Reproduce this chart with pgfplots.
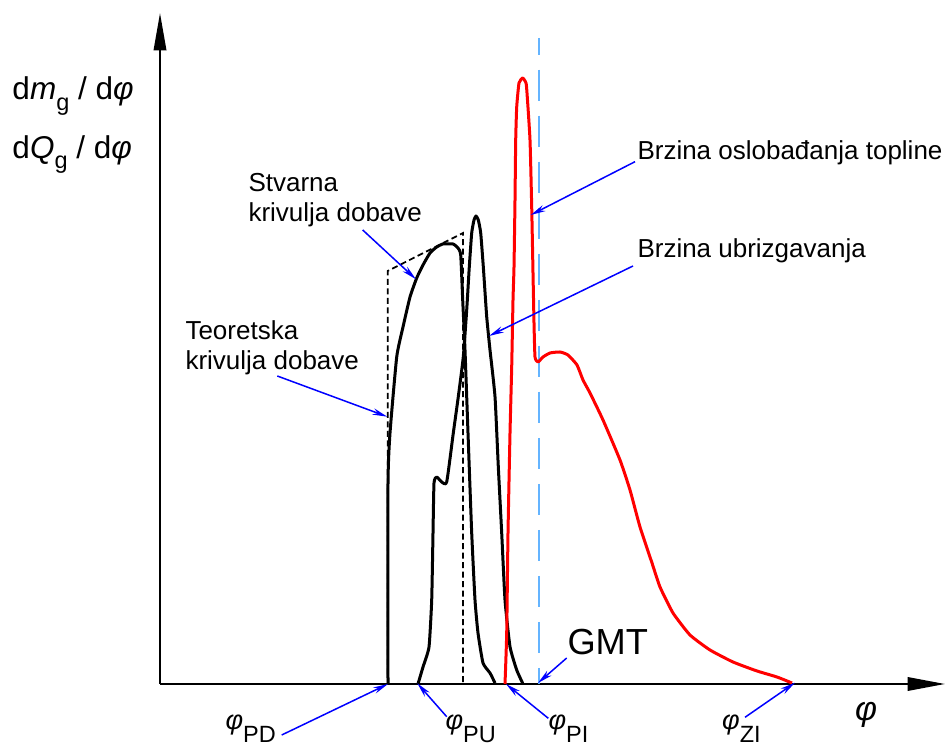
\documentclass[border=0pt]{standalone}
\usepackage{fontspec}
\setmainfont{Liberation Sans}
\usepackage{pgfplots}
\pgfplotsset{compat=1.18}
\usetikzlibrary{arrows.meta}
\definecolor{gmtblue}{RGB}{100,180,255}
\definecolor{pureblue}{RGB}{0,0,255}
\definecolor{heatred}{RGB}{255,0,0}
\newcommand{\phl}[1]{{\fontsize{10.8}{12}\selectfont\textit{φ}\raisebox{-5pt}{\fontsize{9.4}{10}\selectfont #1}}}
\newcommand{\subg}{\raisebox{-4.1pt}{\fontsize{9.4}{10}\selectfont g}}
\begin{document}
\begin{tikzpicture}
\begin{axis}[
  scale only axis, width=378.4pt, height=298.4pt,
  xmin=-160, xmax=786, ymin=-62, ymax=684,
  axis lines=none, clip=false,
  ann/.style={pureblue, line width=0.6pt, -{Stealth[length=6pt,width=2.6pt]}},
]
% axes
\addplot[black, line width=0.8pt, -{Triangle[length=15pt,width=5pt]}] coordinates {(0,0) (0,671)};
\addplot[black, line width=0.8pt, -{Triangle[length=15pt,width=5.4pt]}] coordinates {(0,0) (785,0)};
% GMT dashed line
\addplot[gmtblue, line width=0.75pt, dash pattern=on 12.4pt off 6pt, dash phase=5.7pt] coordinates {(379,646) (379,0)};
% theoretical delivery curve
\addplot[black, line width=0.7pt, dash pattern=on 2.4pt off 1.4pt] coordinates {(227.7,0) (227.7,413) (303,451) (303,0)};
% actual delivery curve
\addplot[black, line width=1.2pt, line join=round, smooth, tension=0.3] coordinates {
(228,0) (228,201) (230,251) (236.7,327) (243,357) (250,387) (256.7,406) (263,419)
(270,431) (276.7,437) (283,440) (293,440) (298,436) (300.7,429) (302.7,384) (305,334)
(308,251) (311.7,151) (315,84) (318,51) (323,21) (330,11) (335,1)};
% injection rate
\addplot[black, line width=1.2pt, line join=round, smooth, tension=0.3] coordinates {
(258,0) (263,17) (269,37) (271.7,84) (273,151) (274,201) (276.7,207) (281.7,202)
(286.7,202) (293.3,251) (298.3,287.3) (303.3,327.3) (306.7,374) (309.3,417.3)
(311.7,451) (314,464) (316,468) (318.3,464) (320.7,451) (323.3,417.3) (326.7,367.3)
(330,334) (335,287.3) (338.3,217.3) (341.7,151) (345,84) (350,37.3) (356.7,14) (362.7,0.7)};
% heat release rate
\addplot[heatred, line width=1.2pt, line join=round, smooth, tension=0.3] coordinates {
(345,0) (346.7,51) (348,151) (350,251) (351.7,317) (353,384) (354,417) (355,484)
(355.7,544) (356.7,577) (359,601) (362.7,606) (366,601) (367,591) (370,544) (371.7,477)
(373,411) (374,361) (375,327) (378,322) (383,327) (390,331) (400,332) (408,329)
(417,319) (423,304) (430,291) (443,264) (460,224) (470,194) (480,157) (492,121)
(500,97) (513,71) (530,49) (550,34) (573,22) (597,13) (617,7) (632,1)};
% annotation arrows
\addplot[ann] coordinates {(202.7,454) (256,404.7)};
\addplot[ann] coordinates {(117.3,308) (227.3,267.3)};
\addplot[ann] coordinates {(475,522.3) (370.7,469)};
\addplot[ann] coordinates {(473,418) (329,348)};
\addplot[ann] coordinates {(406.7,26) (378,1)};
\addplot[ann] coordinates {(121.7,-51) (228,0)};
\addplot[ann] coordinates {(286.7,-32.7) (257.3,0.7)};
\addplot[ann] coordinates {(388.3,-34.3) (346,0)};
\addplot[ann] coordinates {(585,-33.3) (635,1.3)};
% texts
\node[anchor=base west, font=\fontsize{12.6}{14}\selectfont, inner sep=0pt] at (axis cs:-148,584) {d\textit{m}\subg{} / d\textit{φ}};
\node[anchor=base west, font=\fontsize{12.6}{14}\selectfont, inner sep=0pt] at (axis cs:-148,525.7) {d\textit{Q}\subg{} / d\textit{φ}};
\node[anchor=base west, font=\fontsize{10.4}{12}\selectfont, inner sep=0pt] at (axis cs:88,492) {Stvarna};
\node[anchor=base west, font=\fontsize{10.4}{12}\selectfont, inner sep=0pt] at (axis cs:88,462) {krivulja dobave};
\node[anchor=base west, font=\fontsize{10.4}{12}\selectfont, inner sep=0pt] at (axis cs:25,344) {Teoretska};
\node[anchor=base west, font=\fontsize{10.4}{12}\selectfont, inner sep=0pt] at (axis cs:25,314) {krivulja dobave};
\node[anchor=base west, font=\fontsize{10.4}{12}\selectfont, inner sep=0pt] at (axis cs:477,524) {Brzina oslobađanja topline};
\node[anchor=base west, font=\fontsize{10.4}{12}\selectfont, inner sep=0pt] at (axis cs:477,426) {Brzina ubrizgavanja};
\node[anchor=base west, font=\fontsize{14.5}{16}\selectfont, inner sep=0pt] at (axis cs:407,29) {GMT};
\node[anchor=base west, inner sep=0pt] at (axis cs:65,-46) {\phl{PD}};
\node[anchor=base west, inner sep=0pt] at (axis cs:285,-46) {\phl{PU}};
\node[anchor=base west, inner sep=0pt] at (axis cs:388,-46) {\phl{PI}};
\node[anchor=base west, inner sep=0pt] at (axis cs:561.7,-46) {\phl{ZI}};
\node[font=\fontsize{13.5}{15}\selectfont, inner sep=0pt] at (axis cs:706,-30.5) {\textit{φ}};
\end{axis}
\pgfresetboundingbox
\path (current axis.south west) rectangle (current axis.north east);
\end{tikzpicture}
\end{document}
